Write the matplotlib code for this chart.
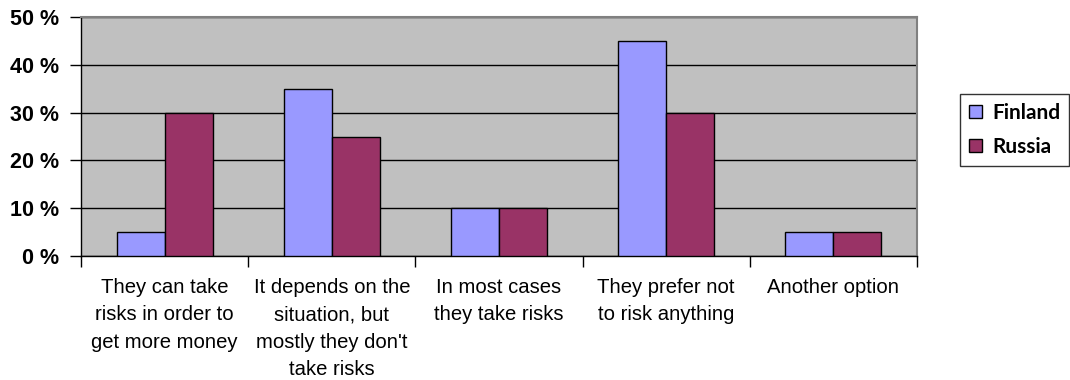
import matplotlib
matplotlib.use("Agg")
import matplotlib.pyplot as plt
import numpy as np
from matplotlib.patches import Patch

categories = [
    "They can take\nrisks in order to\nget more money",
    "It depends on the\nsituation, but\nmostly they don't\ntake risks",
    "In most cases\nthey take risks",
    "They prefer not\nto risk anything",
    "Another option",
]
finland = [5, 35, 10, 45, 5]
russia = [30, 25, 10, 30, 5]
y_ticks = [0, 10, 20, 30, 40, 50]
y_labels = ["0 %", "10 %", "20 %", "30 %", "40 %", "50 %"]

plt.rcParams["font.family"] = ["Liberation Sans", "DejaVu Sans"]

fig = plt.figure(figsize=(10.7, 3.8), dpi=100)
ax = fig.add_axes([81 / 1070, 1 - 256 / 380, (917 - 81) / 1070, (256 - 17) / 380])
ax.set_facecolor("#C0C0C0")

x = np.arange(len(categories))
w = 0.287
ax.bar(x - w / 2, finland, w, color="#9999FF", edgecolor="black", linewidth=1.0, zorder=3)
ax.bar(x + w / 2, russia, w, color="#993366", edgecolor="black", linewidth=1.0, zorder=3)

ax.set_xlim(-0.5, len(categories) - 0.5)
ax.set_ylim(0, 50)
ax.set_yticks(y_ticks)
ax.set_yticklabels(y_labels, fontsize=15.5, fontweight="bold")
ax.yaxis.grid(True, color="black", linewidth=1.0, zorder=1)
ax.tick_params(axis="y", direction="out", length=8, width=1, pad=8)

# category boundaries carry the ticks, category centres carry the labels
ax.set_xticks(np.arange(len(categories) + 1) - 0.5, minor=False)
ax.set_xticklabels([])
ax.tick_params(axis="x", direction="out", length=8, width=1)
ax.set_xticks(x, minor=True)
ax.set_xticklabels(categories, minor=True, fontsize=14.6, linespacing=1.55)
ax.tick_params(axis="x", which="minor", length=0, pad=16)

for s in ["top", "right"]:
    ax.spines[s].set_color("#808080")
    ax.spines[s].set_linewidth(1.5)
for s in ["left", "bottom"]:
    ax.spines[s].set_color("black")
    ax.spines[s].set_linewidth(1.0)

handles = [
    Patch(facecolor="#9999FF", edgecolor="black", label="Finland"),
    Patch(facecolor="#993366", edgecolor="black", label="Russia"),
]
leg = fig.legend(
    handles=handles,
    loc="center left",
    bbox_to_anchor=(960 / 1070, 1 - 130 / 380),
    frameon=True,
    fancybox=False,
    edgecolor="black",
    prop={"family": "Lato", "size": 15, "weight": "bold"},
    handlelength=0.62,
    handleheight=0.62,
    handletextpad=0.5,
    borderpad=0.42,
    labelspacing=0.68,
    borderaxespad=0,
)
leg.get_frame().set_linewidth(1.0)

fig.savefig("out.png", dpi=100, facecolor="white")
